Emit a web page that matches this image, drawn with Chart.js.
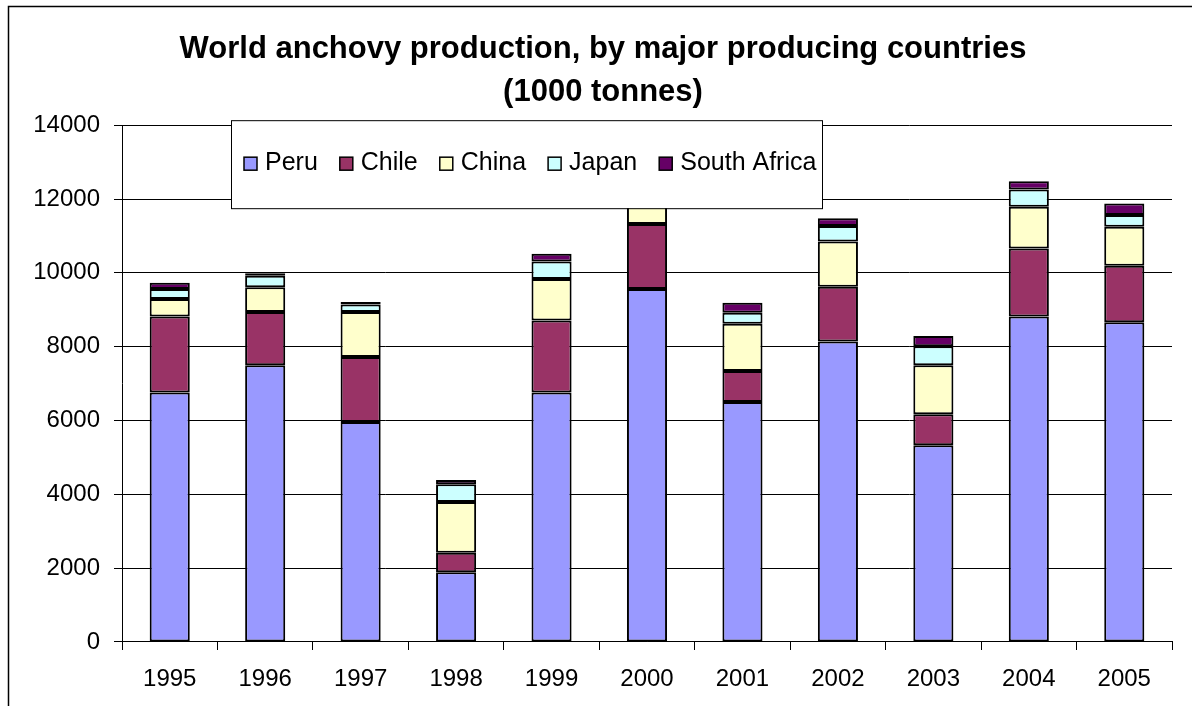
<!DOCTYPE html>
<html>
<head>
<meta charset="utf-8">
<script src="https://cdn.jsdelivr.net/npm/chart.js@4"></script>
<style>
    html, body { margin: 0; padding: 0; background: #fff; }
    canvas { display: block; }
</style>
</head>
<body>
<canvas id="anchovyChart" width="1192" height="706"></canvas>
<script>
// years and production per country (1000 tonnes)
const years = ['1995', '1996', '1997', '1998', '1999', '2000', '2001', '2002', '2003', '2004', '2005'];
const peru = [6760, 7500, 5960, 1890, 6760, 9560, 6500, 8140, 5330, 8820, 8660];
const chile = [2060, 1440, 1760, 530, 1950, 1760, 840, 1480, 840, 1840, 1530];
const china = [470, 670, 1220, 1370, 1120, 1100, 1280, 1230, 1330, 1130, 1060];
const japan = [270, 310, 200, 480, 480, 400, 300, 420, 510, 470, 320];
const southAfrica = [170, 70, 70, 120, 210, 200, 270, 210, 280, 220, 310];
const yTicks = [0, 2000, 4000, 6000, 8000, 10000, 12000, 14000];

const FONT = 'Liberation Sans, Arial, sans-serif';

const ctx = document.getElementById('anchovyChart').getContext('2d');

function makeSet(label, data, color) {
    return {
        label: label,
        data: data,
        backgroundColor: color,
        borderColor: '#000',
        borderWidth: 2,
        borderSkipped: false,
        barPercentage: 0.42,
        categoryPercentage: 1.0
    };
}

const frame = { // thin frame left and top, like the cropped excel chart
    id: 'frame',
    beforeDraw: function(chart) {
        const c = chart.ctx;
        c.save();
        c.fillStyle = '#fff';
        c.fillRect(0, 0, chart.width, chart.height);
        c.strokeStyle = '#000';
        c.lineWidth = 1.5;
        c.beginPath();
        c.moveTo(8.5, chart.height);
        c.lineTo(8.5, 6.5);
        c.lineTo(chart.width, 6.5);
        c.stroke();
        c.restore();
    }
};

const boxLegend = { // legend box sits on top of the plot
    id: 'boxLegend',
    afterDatasetsDraw: function(chart) {
        const c = chart.ctx;
        const area = chart.chartArea;
        const left = area.left + 109;
        const top = area.top - 5;
        const w = 591, h = 88;
        c.save();
        c.fillStyle = '#fff';
        c.fillRect(left, top, w, h);
        c.strokeStyle = '#000';
        c.lineWidth = 1;
        c.strokeRect(left + 0.5, top + 0.5, w, h);
        c.font = '25px ' + FONT;
        c.textBaseline = 'middle';
        c.textAlign = 'left';
        let x = left + 13;
        const y = top + 43;
        chart.data.datasets.forEach(ds => {
            c.fillStyle = ds.backgroundColor;
            c.fillRect(x, y - 6, 13, 13);
            c.strokeStyle = '#000';
            c.lineWidth = 1.5;
            c.strokeRect(x, y - 6, 13, 13);
            c.fillStyle = '#000';
            c.fillText(ds.label, x + 21, y);
            x += 21 + c.measureText(ds.label).width + 22;
        });
        c.restore();
    }
};

const config = {
    type: 'bar',
    data: {
        labels: years,
        datasets: [
            makeSet('Peru', peru, '#9999FF'),
            makeSet('Chile', chile, '#993366'),
            makeSet('China', china, '#FFFFCC'),
            makeSet('Japan', japan, '#CCFFFF'),
            makeSet('South Africa', southAfrica, '#660066')
        ]
    },
    options: {
        responsive: false,
        animation: false,
        devicePixelRatio: 1,
        layout: {
            padding: { left: 34, right: 20, top: 0, bottom: 0 }
        },
        plugins: {
            legend: { display: false },
            tooltip: { enabled: false },
            title: {
                display: true,
                text: ['World anchovy production, by major producing countries', '(1000 tonnes)'],
                color: '#000',
                font: { family: FONT, size: 31, weight: 'bold', lineHeight: 1.39 },
                padding: { top: 28, bottom: 11 }
            }
        },
        scales: {
            x: {
                stacked: true,
                afterFit: function(scale) { scale.height = 64; },
                grid: {
                    offset: true,
                    drawOnChartArea: false,
                    drawTicks: true,
                    tickLength: 8,
                    color: '#000'
                },
                border: { color: '#000', width: 1 },
                ticks: {
                    color: '#000',
                    font: { family: FONT, size: 24 },
                    padding: 15,
                    maxRotation: 0
                }
            },
            y: {
                stacked: true,
                min: 0,
                max: 14000,
                afterFit: function(scale) { scale.width = 88; },
                afterBuildTicks: function(scale) {
                    scale.ticks = yTicks.map(v => ({ value: v }));
                },
                grid: {
                    color: '#000',
                    lineWidth: 1,
                    tickLength: 8
                },
                border: { color: '#000', width: 1 },
                ticks: {
                    color: '#000',
                    font: { family: FONT, size: 24 },
                    padding: 14,
                    callback: function(value) { return String(value); }
                }
            }
        }
    },
    plugins: [frame, boxLegend]
};

const anchovyChart = new Chart(ctx, config);
</script>
</body>
</html>
